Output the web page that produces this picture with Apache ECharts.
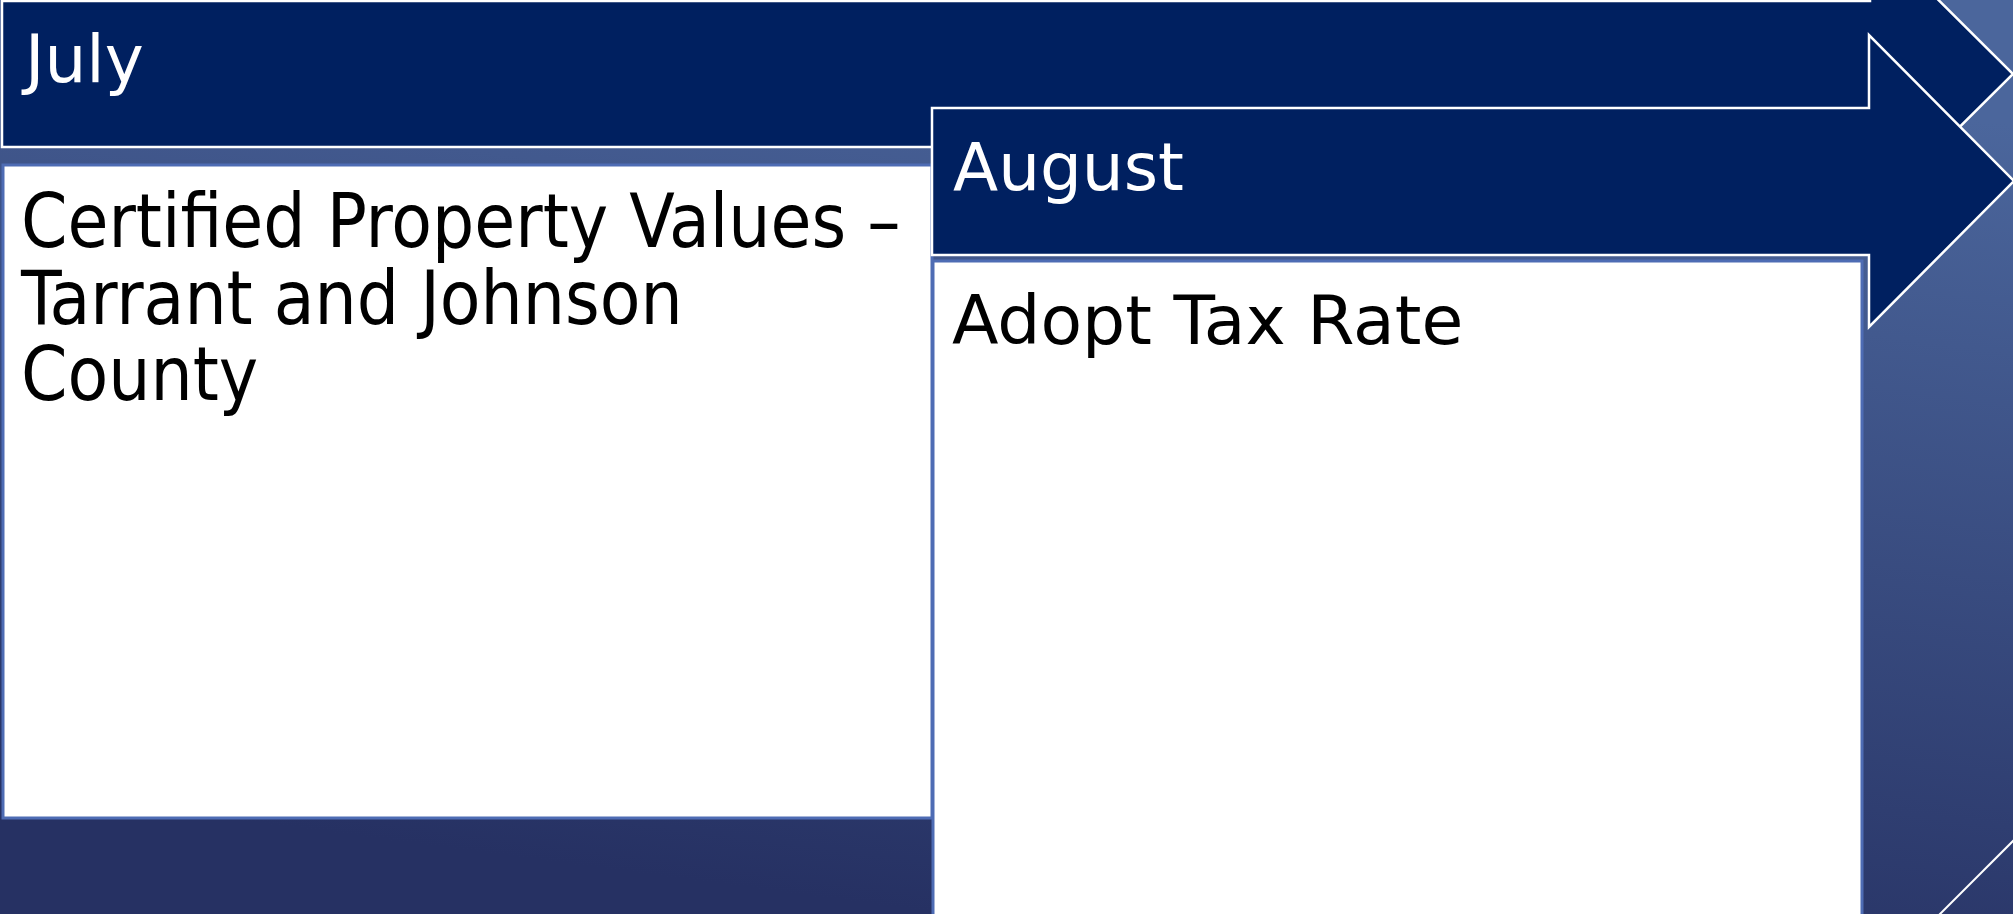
<!DOCTYPE html>
<html>
<head>
<meta charset="utf-8">
<script src="https://cdn.jsdelivr.net/npm/echarts@6/dist/echarts.min.js"></script>
<style>
html,body{margin:0;padding:0;background:#333c6a;}
#c{width:2013px;height:914px;}
</style>
</head>
<body>
<div id="c"></div>
<script>
// ---- content ----
var months = ['July', 'August'];
var julyTasks = ['Certified Property Values \u2013', 'Tarrant and Johnson', 'County'];
var augustTasks = ['Adopt Tax Rate'];

// ---- layout / style ----
var NAVY = '#002060';
var BOX_BORDER = '#4e6cb4';
var FONT_C = '"DejaVu Sans Condensed", "DejaVu Sans", sans-serif';
var FONT_R = '"DejaVu Sans", sans-serif';

var chart = echarts.init(document.getElementById('c'), null, {renderer: 'canvas'});

var arrows = [
  // July arrow
  [[2,1],[1870,1],[1870,-68],[2013,74],[1870,216],[1870,147],[2,147]],
  // August arrow
  [[932,108],[1869,108],[1869,35],[2014,181],[1869,327],[1869,255],[932,255]]
];
var boxes = [
  {x:3, y:165, width:929, height:653},
  {x:933, y:261, width:929, height:720}
];
var titlePos = [[25, 65], [953, 173]];
var taskStyle = [
  {x:21, y:[228, 305, 381], font:'74px ' + FONT_C},
  {x:952, y:[326], font:'68px ' + FONT_R}
];
var taskLists = [julyTasks, augustTasks];

var graphic = [];
graphic.push({
  type:'line', z:1,
  shape:{x1:1925, y1:929, x2:2028, y2:826},
  style:{stroke:'#ffffff', lineWidth:2}
});
months.forEach(function(m, i){
  var zb = 10 + i*10;
  graphic.push({
    type:'polygon', z:zb,
    shape:{points:arrows[i]},
    style:{fill:NAVY, stroke:'#ffffff', lineWidth:2.5}
  });
  graphic.push({
    type:'text', z:zb+1,
    x:titlePos[i][0], y:titlePos[i][1],
    style:{text:m, fill:'#ffffff', font:'66px ' + FONT_R, textVerticalAlign:'middle', textAlign:'left'}
  });
  graphic.push({
    type:'rect', z:zb+2,
    shape:boxes[i],
    style:{fill:'#ffffff', stroke:BOX_BORDER, lineWidth:3}
  });
  taskLists[i].forEach(function(t, j){
    graphic.push({
      type:'text', z:zb+3,
      x:taskStyle[i].x, y:taskStyle[i].y[j],
      style:{text:t, fill:'#000000', font:taskStyle[i].font, textVerticalAlign:'middle', textAlign:'left'}
    });
  });
});

chart.setOption({
  animation:false,
  backgroundColor:{
    type:'linear', x:0.47, y:1, x2:0.53, y2:0,
    colorStops:[{offset:0, color:'#263163'},{offset:1, color:'#4b669c'}]
  },
  graphic:graphic
});
</script>
</body>
</html>
